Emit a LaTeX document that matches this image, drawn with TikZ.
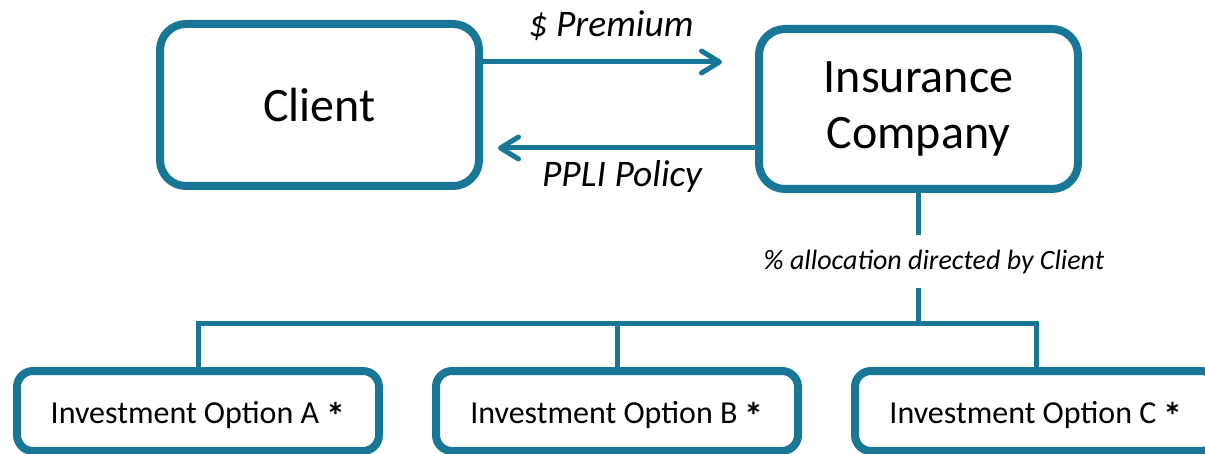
\documentclass[tikz,border=0pt]{standalone}
\usepackage{fontspec}
\setmainfont{Carlito}
\usetikzlibrary{arrows.meta}
\definecolor{teal}{RGB}{24,118,150}
\newcommand{\bigast}{\raisebox{-6pt}{\fontsize{38}{38}\selectfont\bfseries *}}
\tikzset{
  bigbox/.style={draw=teal, line width=8pt, rounded corners=26pt, fill=white,
    minimum width=319pt, align=center, font=\fontsize{48}{56}\selectfont},
  optbox/.style={draw=teal, line width=8pt, rounded corners=16pt, fill=white,
    minimum width=362pt, minimum height=80pt, text depth=0pt, font=\fontsize{32}{38}\selectfont},
  conn/.style={draw=teal, line width=5pt},
  arr/.style={conn, -{Straight Barb[length=18pt,width=22pt,round]}, line cap=round},
  lbl/.style={font=\itshape\fontsize{37.5}{44}\selectfont, inner sep=0pt},
  sublbl/.style={font=\itshape\fontsize{28}{32}\selectfont, fill=white, inner xsep=4pt, minimum height=53pt}
}
\begin{document}
\begin{tikzpicture}[x=1pt,y=-1pt]
\useasboundingbox (0,0) rectangle (1205,454);
\clip (0,0) rectangle (1205,454);
\node[bigbox, minimum height=162pt] (client) at (319.5,105) {Client};
\node[bigbox, minimum height=160pt] (ins) at (918.5,109) {Insurance\\Company};
\node[optbox] (A) at (198,411) {\raisebox{-3pt}{Investment Option A \bigast}};
\node[optbox] (B) at (617,411) {\raisebox{-3pt}{Investment Option B \bigast}};
\node[optbox] (C) at (1036,411) {\raisebox{-3pt}{Investment Option C \bigast}};
\coordinate (pEnd) at (722,62);
\coordinate (qEnd) at (498,148);
\coordinate (J) at (ins.south |- 0,324);
\draw[arr] (client.east |- pEnd) -- (pEnd);
\draw[arr] (ins.west |- qEnd) -- (qEnd);
\node[lbl, anchor=base] (prem) at (611,37) {\$ Premium};
\node[lbl, anchor=base] (pol) at (622,187) {PPLI Policy};
\draw[conn] (ins.south) -- (J);
\draw[conn] (A.north) -- (A.north |- J) -- (C.north |- J) -- (C.north);
\draw[conn] (B.north |- J) -- (B.north);
\node[sublbl] (alloc) at (934,262) {\% allocation directed by Client};
\end{tikzpicture}
\end{document}
